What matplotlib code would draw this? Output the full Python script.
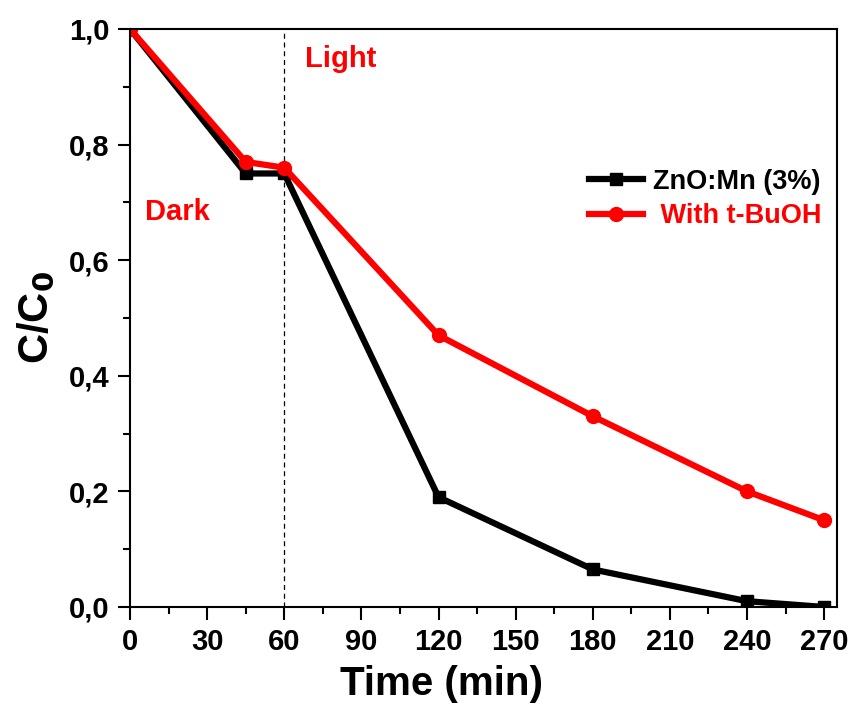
import numpy as np
import matplotlib
matplotlib.use("Agg")
import matplotlib.pyplot as plt
from matplotlib.ticker import MultipleLocator, FuncFormatter

plt.rcParams['font.family'] = ['Liberation Sans', 'DejaVu Sans']
plt.rcParams['font.weight'] = 'bold'

# Data
time = [0, 45, 60, 120, 180, 240, 270]
zno_mn = [1.0, 0.75, 0.75, 0.19, 0.065, 0.01, 0.0]
with_tbuoh = [1.0, 0.77, 0.76, 0.47, 0.33, 0.20, 0.15]

fig = plt.figure(figsize=(8.57, 7.12), dpi=100)
ax = fig.add_axes([0.1517, 0.1475, 0.825, 0.8118])

ax.axvline(60, color='black', linestyle='--', linewidth=0.9, dashes=(4, 3))
ax.plot(time, zno_mn, color='black', linewidth=4.5, marker='s', markersize=8,
        label='ZnO:Mn (3%)')
ax.plot(time, with_tbuoh, color='#ff0000', linewidth=4.5, marker='o', markersize=10,
        label=' With t-BuOH')

ax.set_xlim(0, 275)
ax.set_ylim(0, 1.0)
ax.xaxis.set_major_locator(MultipleLocator(30))
ax.xaxis.set_minor_locator(MultipleLocator(15))
ax.yaxis.set_major_locator(MultipleLocator(0.2))
ax.yaxis.set_minor_locator(MultipleLocator(0.1))
ax.yaxis.set_major_formatter(FuncFormatter(lambda v, p: f"{v:.1f}".replace('.', ',')))

ax.tick_params(which='major', direction='out', length=9, width=1.5, labelsize=21, pad=6)
ax.tick_params(which='minor', direction='out', length=5, width=1.5)
for lab in ax.get_xticklabels() + ax.get_yticklabels():
    lab.set_fontweight('bold')
for s in ax.spines.values():
    s.set_linewidth(1.5)

ax.set_xlabel('Time (min)', fontsize=29, fontweight='bold')
ax.xaxis.set_label_coords(0.44, -0.1)
ax.set_ylabel('C/C$_\\mathbf{0}$', fontsize=30, fontweight='bold', labelpad=8)

ax.text(68, 0.935, 'Light', color='#ff0000', fontsize=21, fontweight='bold')
ax.text(6, 0.67, 'Dark', color='#ff0000', fontsize=21, fontweight='bold')

leg = ax.legend(loc='upper right', bbox_to_anchor=(1.012, 0.80), frameon=False,
                handlelength=2.0, handletextpad=0.35, labelspacing=0.3,
                prop={'weight': 'bold', 'size': 19.5})
for txt, c in zip(leg.get_texts(), ['black', '#ff0000']):
    txt.set_color(c)

fig.savefig('out.png', dpi=100)
